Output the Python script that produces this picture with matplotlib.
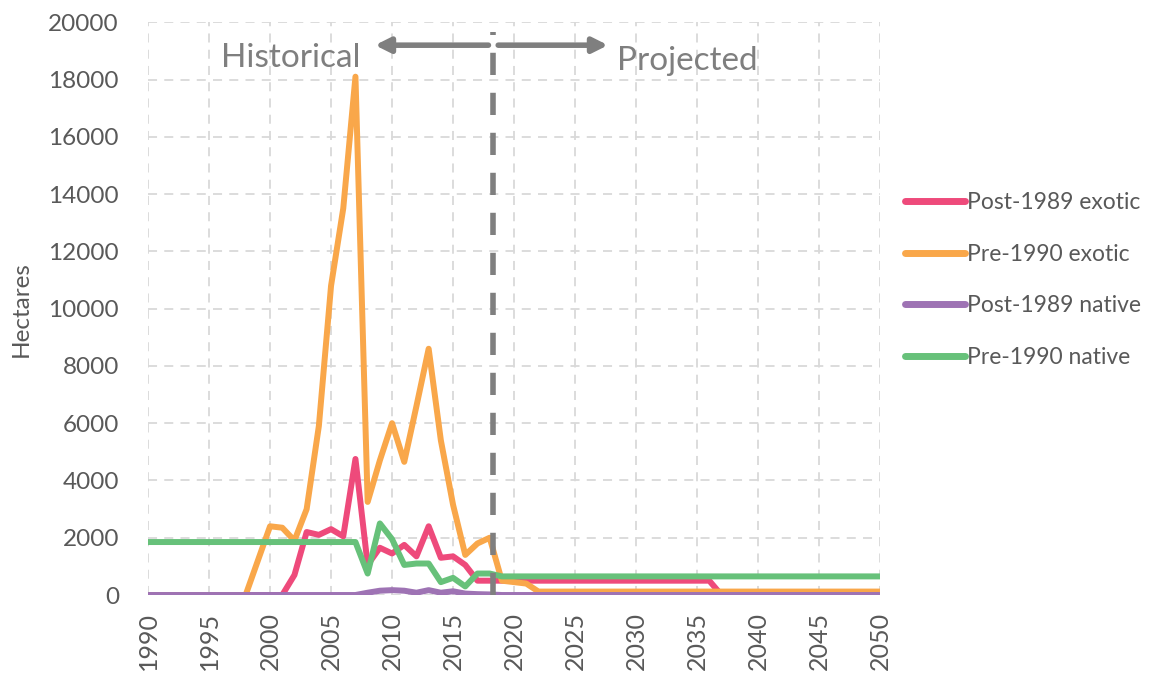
import matplotlib
matplotlib.use("Agg")
import matplotlib.pyplot as plt
import numpy as np

plt.rcParams['font.family'] = ['Lato', 'DejaVu Sans']

anos = list(range(1990, 2051))

# Post-1989 exotic
post_exotico = [0, 0, 0, 0, 0, 0, 0, 0, 0, 0,
                0, 0, 700, 2200, 2100, 2300, 2050, 4750, 1050, 1650,
                1450, 1750, 1350, 2400, 1300, 1350, 1050, 500, 500, 500,
                500, 500, 500, 500, 500, 500, 500, 500, 500, 500,
                500, 500, 500, 500, 500, 500, 500, 0, 0, 0,
                0, 0, 0, 0, 0, 0, 0, 0, 0, 0,
                0]
# Pre-1990 exotic
pre_exotico = [0, 0, 0, 0, 0, 0, 0, 0, 0, 1200,
               2400, 2350, 1900, 3000, 5900, 10800, 13500, 18100, 3250, 4700,
               6000, 4650, 6600, 8600, 5400, 3150, 1400, 1800, 2000, 500,
               450, 400, 120, 120, 120, 120, 120, 120, 120, 120,
               120, 120, 120, 120, 120, 120, 120, 120, 120, 120,
               120, 120, 120, 120, 120, 120, 120, 120, 120, 120,
               120]
# Post-1989 native
post_nativo = [0, 0, 0, 0, 0, 0, 0, 0, 0, 0,
               0, 0, 0, 0, 0, 0, 0, 0, 80, 150,
               170, 150, 80, 170, 80, 130, 50, 30, 20, 0,
               0, 0, 0, 0, 0, 0, 0, 0, 0, 0,
               0, 0, 0, 0, 0, 0, 0, 0, 0, 0,
               0, 0, 0, 0, 0, 0, 0, 0, 0, 0,
               0]
# Pre-1990 native
pre_nativo = [1850, 1850, 1850, 1850, 1850, 1850, 1850, 1850, 1850, 1850,
              1850, 1850, 1850, 1850, 1850, 1850, 1850, 1850, 750, 2500,
              1950, 1050, 1100, 1100, 450, 600, 300, 750, 750, 650,
              650, 650, 650, 650, 650, 650, 650, 650, 650, 650,
              650, 650, 650, 650, 650, 650, 650, 650, 650, 650,
              650, 650, 650, 650, 650, 650, 650, 650, 650, 650,
              650]

series = [("Post-1989 exotic", post_exotico, "#ee4a7b"),
          ("Pre-1990 exotic", pre_exotico, "#f9a74a"),
          ("Post-1989 native", post_nativo, "#9e73b4"),
          ("Pre-1990 native", pre_nativo, "#67c17a")]

ano_corte = 2018.3
cinza = "#595959"

fig = plt.figure(figsize=(11.75, 6.75), dpi=100)
ax = fig.add_axes([0.126, 0.1185, 0.623, 0.8485])

for nome, valores, cor in series:
    ax.plot(anos, valores, color=cor, lw=4.3, label=nome, solid_capstyle='round', solid_joinstyle='round')

# linha tracejada historico / projetado
ax.plot([ano_corte, ano_corte], [0, 19650], color="#7f7f7f", lw=4, ls=(0, (4, 3.2)), zorder=5)
ax.annotate("", xy=(2008.6, 19200), xytext=(2017.9, 19200),
            arrowprops=dict(arrowstyle='-|>', lw=4, color="#7f7f7f", mutation_scale=22, shrinkA=0, shrinkB=0))
ax.annotate("", xy=(2027.7, 19200), xytext=(2018.7, 19200),
            arrowprops=dict(arrowstyle='-|>', lw=4, color="#7f7f7f", mutation_scale=22, shrinkA=0, shrinkB=0))
ax.text(2007.4, 18750, "Historical", ha='right', va='center', fontsize=24, color="#7f7f7f")
ax.text(2028.4, 18650, "Projected", ha='left', va='center', fontsize=24, color="#7f7f7f")

ax.set_xlim(1990, 2050)
ax.set_ylim(0, 20000)
ax.set_xticks(range(1990, 2051, 5))
ax.set_yticks(range(0, 20001, 2000))
ax.tick_params(axis='x', labelrotation=90, labelsize=18, colors=cinza, length=0, pad=12)
ax.tick_params(axis='y', labelsize=17.5, colors=cinza, length=0, pad=21)
ax.grid(True, color="#d9d9d9", lw=1.3, ls=(0, (5, 4)))
ax.set_axisbelow(True)
for lado in ax.spines.values():
    lado.set_visible(False)
ax.set_ylabel("Hectares", fontsize=17.5, color=cinza, labelpad=12)

leg = ax.legend(loc='center left', bbox_to_anchor=(1.006, 0.55), frameon=False,
                fontsize=16.5, handlelength=2.6, handletextpad=0.1, labelspacing=1.33, labelcolor=cinza)
for linha in leg.get_lines():
    linha.set_linewidth(5)

fig.savefig("out.png", dpi=100)
